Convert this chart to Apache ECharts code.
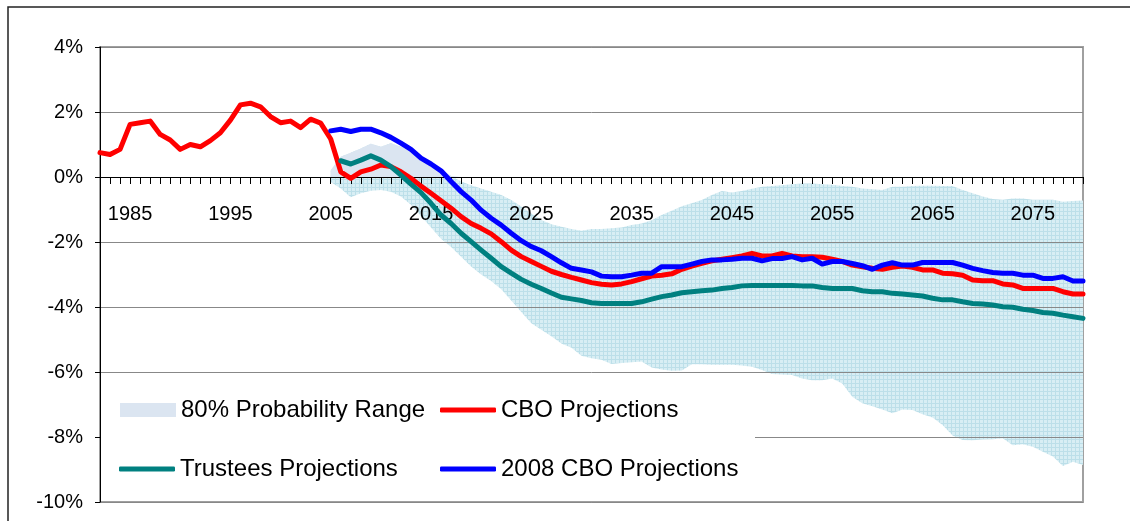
<!DOCTYPE html>
<html>
<head>
<meta charset="utf-8">
<script src="https://cdn.jsdelivr.net/npm/echarts@6/dist/echarts.min.js"></script>
<style>
  html, body { margin: 0; padding: 0; background: #fff; }
  #chart { width: 1130px; height: 521px; }
</style>
</head>
<body>
<div id="chart"></div>
<script>
// Years on the category axis
const firstYear = 1982;
const lastYear = 2080;
const years = [];
for (let y = firstYear; y <= lastYear; y++) years.push(String(y));

// CBO projections (history + projection), 1982-2080
const cbo = [
    0.75, 0.69, 0.85, 1.62, 1.67, 1.72, 1.31, 1.14, 0.85, 1.00,
    0.93, 1.12, 1.36, 1.75, 2.22, 2.27, 2.16, 1.86, 1.67, 1.72,
    1.52, 1.78, 1.66, 1.17, 0.16, -0.04, 0.16, 0.24, 0.37, 0.32,
    0.16, -0.04, -0.28, -0.50, -0.73, -0.96, -1.22, -1.43, -1.58, -1.75,
    -1.99, -2.25, -2.45, -2.60, -2.75, -2.90, -3.00, -3.09, -3.17, -3.25,
    -3.30, -3.32, -3.29, -3.22, -3.13, -3.05, -3.02, -2.98, -2.84, -2.74,
    -2.66, -2.58, -2.53, -2.48, -2.43, -2.35, -2.43, -2.43, -2.35, -2.43,
    -2.45, -2.45, -2.47, -2.53, -2.60, -2.71, -2.76, -2.81, -2.84, -2.78,
    -2.74, -2.78, -2.86, -2.86, -2.96, -2.98, -3.02, -3.17, -3.19, -3.19,
    -3.29, -3.32, -3.43, -3.43, -3.43, -3.43, -3.53, -3.60, -3.60
];

// 2008 CBO projections, 2005-2080
const cbo2008Start = 2005;
const cbo2008 = [
    1.42, 1.47, 1.40, 1.47, 1.47, 1.36, 1.22, 1.04, 0.85, 0.58,
    0.40, 0.19, -0.14, -0.45, -0.71, -1.02, -1.27, -1.48, -1.73, -1.96,
    -2.14, -2.27, -2.45, -2.64, -2.81, -2.86, -2.92, -3.05, -3.07, -3.07,
    -3.02, -2.96, -2.96, -2.76, -2.76, -2.76, -2.68, -2.60, -2.55, -2.55,
    -2.53, -2.50, -2.50, -2.58, -2.51, -2.51, -2.45, -2.55, -2.50, -2.68,
    -2.60, -2.60, -2.66, -2.73, -2.84, -2.71, -2.64, -2.71, -2.71, -2.63,
    -2.63, -2.63, -2.63, -2.71, -2.81, -2.88, -2.94, -2.96, -2.96, -3.02,
    -3.02, -3.12, -3.12, -3.07, -3.20, -3.20
];

// Trustees projections, 2006-2080
const trusteesStart = 2006;
const trustees = [
    0.50, 0.40, 0.52, 0.65, 0.52, 0.32, 0.06, -0.22, -0.48, -0.81,
    -1.17, -1.43, -1.73, -1.99, -2.25, -2.50, -2.76, -2.96, -3.15, -3.30,
    -3.43, -3.57, -3.70, -3.75, -3.80, -3.87, -3.89, -3.89, -3.89, -3.89,
    -3.84, -3.76, -3.68, -3.63, -3.56, -3.53, -3.50, -3.48, -3.43, -3.40,
    -3.35, -3.34, -3.34, -3.34, -3.34, -3.34, -3.35, -3.35, -3.40, -3.43,
    -3.43, -3.43, -3.50, -3.53, -3.53, -3.58, -3.60, -3.63, -3.66, -3.73,
    -3.78, -3.78, -3.84, -3.89, -3.91, -3.94, -3.99, -4.01, -4.07, -4.11,
    -4.17, -4.19, -4.25, -4.30, -4.35
];

// 80% probability range, 2005-2080
const rangeStart = 2005;
const rangeUpper = [
    0.20, 0.62, 0.75, 0.88, 1.02, 0.93, 1.04, 0.93, 0.78, 0.62,
    0.42, 0.22, 0.03, -0.14, -0.25, -0.35, -0.45, -0.55, -0.71, -0.91,
    -1.12, -1.32, -1.45, -1.53, -1.60, -1.65, -1.60, -1.60, -1.58, -1.55,
    -1.48, -1.43, -1.33, -1.17, -1.04, -0.90, -0.81, -0.71, -0.55, -0.43,
    -0.48, -0.43, -0.36, -0.30, -0.28, -0.25, -0.22, -0.20, -0.20, -0.22,
    -0.24, -0.28, -0.30, -0.35, -0.38, -0.40, -0.30, -0.30, -0.28, -0.27,
    -0.27, -0.28, -0.28, -0.40, -0.50, -0.60, -0.68, -0.70, -0.66, -0.66,
    -0.70, -0.70, -0.70, -0.76, -0.74, -0.72
];
const rangeLower = [
    -0.15, -0.35, -0.62, -0.50, -0.42, -0.40, -0.45, -0.60, -0.85, -1.20,
    -1.55, -1.90, -2.15, -2.45, -2.75, -3.00, -3.20, -3.45, -3.80, -4.15,
    -4.50, -4.70, -4.90, -5.12, -5.25, -5.50, -5.58, -5.62, -5.75, -5.72,
    -5.70, -5.68, -5.86, -5.92, -5.96, -5.95, -5.76, -5.76, -5.78, -5.78,
    -5.78, -5.80, -5.84, -5.94, -6.06, -6.08, -6.09, -6.20, -6.25, -6.25,
    -6.20, -6.35, -6.76, -6.96, -7.05, -7.15, -7.27, -7.15, -7.17, -7.30,
    -7.40, -7.63, -7.95, -8.09, -8.10, -8.08, -8.07, -8.04, -8.25, -8.22,
    -8.30, -8.45, -8.60, -8.89, -8.76, -8.86
];

// Y axis ticks
const yMin = -10, yMax = 4, yStep = 2;

// pad a series that starts later than the first category
const pad = (arr, start) => new Array(start - firstYear).fill(null).concat(arr);

const lowerData = pad(rangeLower, rangeStart);
const spanData = pad(rangeUpper.map((u, i) => +(u - rangeLower[i]).toFixed(2)), rangeStart);
const aboveZeroData = pad(rangeUpper.map(u => Math.max(u, 0)), rangeStart);

// grid pattern used by Excel for the range below zero
const tile = document.createElement('canvas');
tile.width = 4; tile.height = 4;
const ctx = tile.getContext('2d');
ctx.fillStyle = '#d8eef4';
ctx.fillRect(0, 0, 4, 4);
ctx.fillStyle = '#bcdfe9';
ctx.fillRect(3, 0, 1, 4);
ctx.fillRect(0, 3, 4, 1);

const font = 'Liberation Sans, Arial, sans-serif';
const bandSolid = '#dbe5f1';

// plot box in pixels (zero line sits 130px below top)
const plotTop = 47, plotBottom = 19, zeroFromBottom = 325;

const chart = echarts.init(document.getElementById('chart'));

const legendBase = {
    orient: 'horizontal',
    padding: 0,
    itemWidth: 56,
    itemHeight: 5,
    selectedMode: false,
    z: 30,
    textStyle: { fontFamily: font, fontSize: 24, color: '#000' }
};
const lineIcon = 'roundRect';

chart.setOption({
    animation: false,
    backgroundColor: '#fff',
    textStyle: { fontFamily: font },
    grid: {
        left: 100, right: 47, top: plotTop, bottom: plotBottom,
        show: true, borderColor: '#a0a0a0', borderWidth: 2, backgroundColor: 'transparent'
    },
    legend: [
        Object.assign({}, legendBase, { left: 120, top: 398, itemHeight: 14, data: [{ name: '80% Probability Range', icon: 'rect', itemStyle: { color: bandSolid } }] }),
        Object.assign({}, legendBase, { left: 440, top: 398, data: [{ name: 'CBO Projections', icon: lineIcon }] }),
        Object.assign({}, legendBase, { left: 119, top: 457, data: [{ name: 'Trustees Projections', icon: lineIcon }] }),
        Object.assign({}, legendBase, { left: 440, top: 457, data: [{ name: '2008 CBO Projections', icon: lineIcon }] })
    ],
    graphic: [
        { type: 'rect', silent: true, z: 0, shape: { x: 8, y: 7, width: 1300, height: 700 }, style: { fill: 'none', stroke: '#222', lineWidth: 1.5 } },
        { type: 'rect', silent: true, z: 20, shape: { x: 101, y: 386, width: 654, height: 114 }, style: { fill: '#fff' } }
    ],
    xAxis: [
        {
            // axis line and ticks on the zero line
            type: 'category',
            data: years,
            boundaryGap: false,
            z: 3,
            axisLine: { onZero: true, lineStyle: { color: '#000', width: 1 } },
            axisTick: { show: true, interval: 0, length: 7, lineStyle: { color: '#000' } },
            axisLabel: { show: false },
            splitLine: { show: false }
        },
        {
            // year labels hanging under the zero line
            type: 'category',
            data: years,
            boundaryGap: false,
            position: 'bottom',
            offset: -zeroFromBottom,
            z: 3,
            axisLine: { show: false, onZero: false },
            axisTick: { show: false },
            axisLabel: {
                interval: (idx, val) => (Number(val) - 1985) % 10 === 0,
                margin: 27,
                color: '#000',
                fontSize: 20,
                fontFamily: font
            },
            splitLine: { show: false }
        }
    ],
    yAxis: {
        type: 'value',
        min: yMin, max: yMax, interval: yStep,
        z: 3,
        axisLine: { show: true, lineStyle: { color: '#000', width: 1 } },
        axisTick: { show: true, length: 5, lineStyle: { color: '#000' } },
        axisLabel: { formatter: v => v + '%', margin: 17, color: '#000', fontSize: 20, fontFamily: font },
        splitLine: { lineStyle: { color: '#888', width: 1 } }
    },
    series: [
        {
            name: 'rangeBase', type: 'line', stack: 'range', stackStrategy: 'all', data: lowerData,
            symbol: 'none', silent: true, z: 1,
            lineStyle: { width: 0, opacity: 0 }
        },
        {
            name: '80% Probability Range', type: 'line', stack: 'range', stackStrategy: 'all', data: spanData,
            symbol: 'none', silent: true, z: 1,
            itemStyle: { color: bandSolid },
            lineStyle: { width: 0, opacity: 0 },
            areaStyle: { color: { image: tile, repeat: 'repeat' }, opacity: 1 }
        },
        {
            name: 'rangeAboveZero', type: 'line', data: aboveZeroData,
            symbol: 'none', silent: true, z: 1,
            lineStyle: { width: 0, opacity: 0 },
            areaStyle: { color: bandSolid, opacity: 1 }
        },
        {
            name: 'CBO Projections', type: 'line', data: cbo,
            symbol: 'none', z: 4,
            itemStyle: { color: '#ff0000' },
            lineStyle: { color: '#ff0000', width: 5, join: 'round', cap: 'round' }
        },
        {
            name: 'Trustees Projections', type: 'line', data: pad(trustees, trusteesStart),
            symbol: 'none', z: 5,
            itemStyle: { color: '#008080' },
            lineStyle: { color: '#008080', width: 5, join: 'round', cap: 'round' }
        },
        {
            name: '2008 CBO Projections', type: 'line', data: pad(cbo2008, cbo2008Start),
            symbol: 'none', z: 6,
            itemStyle: { color: '#0000ff' },
            lineStyle: { color: '#0000ff', width: 5, join: 'round', cap: 'round' }
        }
    ]
});

window.addEventListener('resize', () => chart.resize());
</script>
</body>
</html>
